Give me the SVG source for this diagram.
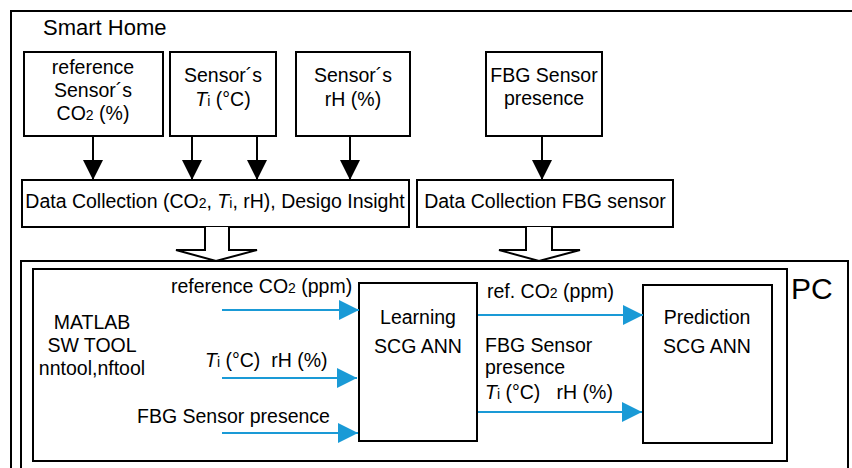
<svg xmlns="http://www.w3.org/2000/svg" width="852" height="468" viewBox="0 0 852 468">
<defs>
<style>
.b{fill:#fff;stroke:#000;stroke-width:2}
.f{fill:none;stroke:#000;stroke-width:2}
text{font-family:"Liberation Sans",Arial,sans-serif;font-size:19.5px;fill:#000}
.m{text-anchor:middle}
.s{font-size:14px}
.i{font-style:italic}
.k{stroke:#000;stroke-width:2}
.bl{stroke:#1a9ad6;stroke-width:2;fill:none}
</style>
<marker id="ka" viewBox="0 0 20 20" refX="20" refY="10" markerWidth="20" markerHeight="20" markerUnits="userSpaceOnUse" orient="auto"><path d="M0,0 L20,10 L0,20 Z" fill="#000"/></marker>
<marker id="ba" viewBox="0 0 20 20" refX="20" refY="10" markerWidth="20" markerHeight="20" markerUnits="userSpaceOnUse" orient="auto"><path d="M0,0 L20,10 L0,20 Z" fill="#1a9ad6"/></marker>
</defs>
<rect width="852" height="468" fill="#fff"/>
<g id="smart-home">
<rect class="f" x="11" y="11" width="860" height="470"/>
<text x="43" y="35" style="font-size:22px">Smart Home</text>
</g>
<g id="ref-co2">
<rect class="b" x="24" y="52" width="139" height="84"/>
<text class="m" x="93" y="74">reference</text>
<text class="m" x="93" y="97">Sensor´s</text>
<text class="m" x="93" y="120">CO<tspan class="s">2</tspan> (%)</text>
</g>
<g id="sensor-ti">
<rect class="b" x="170" y="52" width="106" height="84"/>
<text class="m" x="223" y="82">Sensor´s</text>
<text class="m" x="223" y="106"><tspan class="i">T</tspan><tspan class="s">i</tspan> (°C)</text>
</g>
<g id="sensor-rh">
<rect class="b" x="296" y="52" width="114" height="84"/>
<text class="m" x="353" y="82">Sensor´s</text>
<text class="m" x="353" y="106">rH (%)</text>
</g>
<g id="fbg-sensor">
<rect class="b" x="486" y="52" width="116" height="84"/>
<text class="m" x="544" y="82">FBG Sensor</text>
<text class="m" x="544" y="105">presence</text>
</g>
<g id="dc1">
<rect class="b" x="22" y="180" width="387" height="47"/>
<text class="m" x="215" y="208">Data Collection (CO<tspan class="s">2</tspan>, <tspan class="i">T</tspan><tspan class="s">i</tspan>, rH), Desigo Insight</text>
</g>
<g id="dc2">
<rect class="b" x="417" y="180" width="256" height="47"/>
<text class="m" x="545" y="208">Data Collection FBG sensor</text>
</g>
<g id="pc">
<rect class="f" x="21" y="261" width="827" height="220"/>
<text x="791" y="299" style="font-size:30px">PC</text>
</g>
<g id="matlab">
<rect class="f" x="33" y="269" width="754" height="192"/>
<text class="m" x="92" y="329">MATLAB</text>
<text class="m" x="92" y="352">SW TOOL</text>
<text class="m" x="92" y="375">nntool,nftool</text>
</g>
<g id="learning">
<rect class="b" x="359" y="283" width="118" height="158"/>
<text class="m" x="418" y="324">Learning</text>
<text class="m" x="418" y="353">SCG ANN</text>
</g>
<g id="prediction">
<rect class="b" x="643" y="285" width="129" height="158"/>
<text class="m" x="707" y="324">Prediction</text>
<text class="m" x="707" y="353">SCG ANN</text>
</g>
<g id="connectors">
<line class="k" x1="93" y1="136" x2="93" y2="180" marker-end="url(#ka)"/>
<line class="k" x1="192" y1="136" x2="192" y2="180" marker-end="url(#ka)"/>
<line class="k" x1="257" y1="136" x2="257" y2="180" marker-end="url(#ka)"/>
<line class="k" x1="350" y1="136" x2="350" y2="180" marker-end="url(#ka)"/>
<line class="k" x1="542" y1="136" x2="542" y2="180" marker-end="url(#ka)"/>
<path class="b" d="M205,227 V250 H176 L216,261 L257,250 H229 V227"/>
<path class="b" d="M526,227 V250 H499 L539,261 L580,250 H552 V227"/>
<line class="bl" x1="222" y1="310" x2="359" y2="310" marker-end="url(#ba)"/>
<line class="bl" x1="222" y1="378" x2="357" y2="378" marker-end="url(#ba)"/>
<line class="bl" x1="222" y1="433" x2="358" y2="433" marker-end="url(#ba)"/>
<line class="bl" x1="478" y1="315" x2="643" y2="315" marker-end="url(#ba)"/>
<line class="bl" x1="478" y1="412" x2="642" y2="412" marker-end="url(#ba)"/>
<text x="171" y="293">reference CO<tspan class="s">2</tspan> (ppm)</text>
<text x="205" y="367" xml:space="preserve"><tspan class="i">T</tspan><tspan class="s">i</tspan> (°C)  rH (%)</text>
<text x="137" y="423">FBG Sensor presence</text>
<text x="487" y="298">ref. CO<tspan class="s">2</tspan> (ppm)</text>
<text x="485" y="352">FBG Sensor</text>
<text x="485" y="374">presence</text>
<text x="485" y="399" xml:space="preserve"><tspan class="i">T</tspan><tspan class="s">i</tspan> (°C)   rH (%)</text>
</g>
</svg>
